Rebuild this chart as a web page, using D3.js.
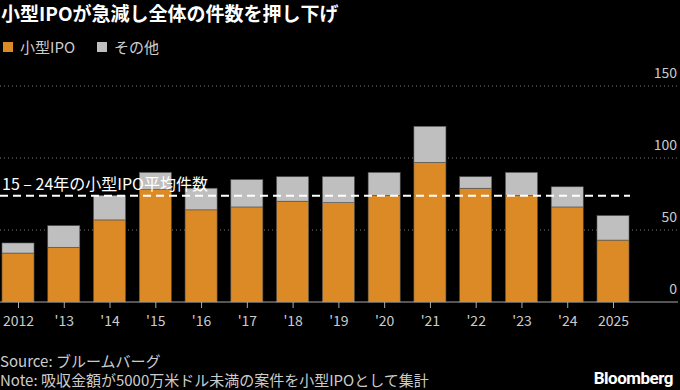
<!DOCTYPE html>
<html>
<head>
<meta charset="utf-8">
<script src="https://cdn.jsdelivr.net/npm/d3@7"></script>
<style>
  html, body { margin: 0; padding: 0; background: #000; }
  svg { display: block; font-family: "Noto Sans CJK JP", "Noto Sans", sans-serif; }
</style>
</head>
<body>
<svg id="chart" width="680" height="390"></svg>
<script>
// values
var years = ["2012","2013","2014","2015","2016","2017","2018","2019","2020","2021","2022","2023","2024","2025"];
var yearLabels = ["2012","'13","'14","'15","'16","'17","'18","'19","'20","'21","'22","'23","'24","2025"];
var smallIPO = [34, 38, 57, 78, 64, 66, 70, 69, 74, 97, 79, 74, 66, 43];
var others   = [7, 15, 17, 12, 15, 19, 17, 18, 16, 25, 8, 16, 14, 17];
var yTicks = [0, 50, 100, 150];

var ORANGE = "#dc8a26", GRAY = "#bfbfbf";

var svg = d3.select("#chart");

// average of small IPOs 2015-2024
var avg = d3.mean(smallIPO.slice(3, 13));

var baseY = 302;
var y = d3.scaleLinear().domain([0, 150]).range([baseY, 86]);
var x = d3.scalePoint().domain(years).range([18, 613]);
var bw = x.step() * 0.7;

// title
svg.append("text")
   .attr("x", 1).attr("y", 21)
   .attr("fill", "#fff")
   .attr("font-size", 19).attr("font-weight", "bold")
   .text("小型IPOが急減し全体の件数を押し下げ");

// legend
var legend = [{name: "小型IPO", color: ORANGE, x: 3}, {name: "その他", color: GRAY, x: 97}];
var lg = svg.selectAll("g.legend").data(legend).enter().append("g")
   .attr("class", "legend")
   .attr("transform", function(d){ return "translate(" + d.x + ",42)"; });
lg.append("rect").attr("width", 10).attr("height", 10).attr("fill", function(d){ return d.color; });
lg.append("text").attr("x", 17).attr("y", 11)
  .attr("fill", "#ccc").attr("font-size", 15)
  .text(function(d){ return d.name; });

// gridlines
svg.selectAll("line.grid").data(yTicks.filter(function(t){ return t > 0; })).enter()
   .append("line")
   .attr("class", "grid")
   .attr("x1", 0).attr("x2", 678)
   .attr("y1", function(d){ return y(d); }).attr("y2", function(d){ return y(d); })
   .attr("stroke", "#777").attr("stroke-width", 1)
   .attr("stroke-dasharray", "1,3");

// y labels
svg.selectAll("text.ytick").data(yTicks).enter()
   .append("text")
   .attr("class", "ytick")
   .attr("x", 677).attr("y", function(d){ return y(d) - 8; })
   .attr("text-anchor", "end")
   .attr("fill", "#ccc").attr("font-size", 14)
   .text(function(d){ return d; });

// stacked bars
var rows = years.map(function(yr, i){ return {year: yr, small: smallIPO[i], other: others[i]}; });
var stack = d3.stack().keys(["small", "other"])(rows);
var colors = {small: ORANGE, other: GRAY};

svg.selectAll("g.series").data(stack).enter()
   .append("g")
   .attr("class", "series")
   .attr("fill", function(s){ return colors[s.key]; })
   .selectAll("rect").data(function(s){ return s; }).enter()
   .append("rect")
   .attr("x", function(d){ return x(d.data.year) - bw / 2; })
   .attr("width", bw)
   .attr("y", function(d){ return y(d[1]); })
   .attr("height", function(d){ return y(d[0]) - y(d[1]); })
   .attr("stroke", "#555").attr("stroke-width", 0.6);

// x axis
var xAxis = d3.axisBottom(x)
   .tickSize(6)
   .tickFormat(function(d, i){ return yearLabels[i]; });
var ax = svg.append("g").attr("transform", "translate(0," + baseY + ")").call(xAxis);
ax.select(".domain").remove();
ax.selectAll(".tick line").attr("stroke", "#aaa");
ax.selectAll(".tick text").attr("fill", "#ccc").attr("font-size", 14).attr("dy", "1.05em")
  .attr("font-family", "\"Noto Sans CJK JP\", sans-serif");
svg.append("line")
   .attr("x1", 0).attr("x2", 678).attr("y1", baseY).attr("y2", baseY)
   .attr("stroke", "#aaa");

// average line
svg.append("line")
   .attr("x1", 0).attr("x2", 630)
   .attr("y1", y(avg)).attr("y2", y(avg))
   .attr("stroke", "#fff").attr("stroke-width", 2)
   .attr("stroke-dasharray", "8,5");
svg.append("text")
   .attr("x", 2).attr("y", y(avg) - 6)
   .attr("fill", "#fff").attr("font-size", 16)
   .text("15 – 24年の小型IPO平均件数");

// footer
svg.append("text")
   .attr("x", 0).attr("y", 367)
   .attr("fill", "#ccc").attr("font-size", 15)
   .text("Source: ブルームバーグ");
svg.append("text")
   .attr("x", 0).attr("y", 386)
   .attr("fill", "#ccc").attr("font-size", 15)
   .text("Note: 吸収金額が5000万米ドル未満の案件を小型IPOとして集計");
svg.append("text")
   .attr("x", 673).attr("y", 384)
   .attr("text-anchor", "end")
   .attr("fill", "#fff").attr("font-size", 17).attr("font-weight", "bold")
   .attr("font-family", "Roboto, sans-serif")
   .attr("letter-spacing", "-0.5")
   .text("Bloomberg");
</script>
</body>
</html>
